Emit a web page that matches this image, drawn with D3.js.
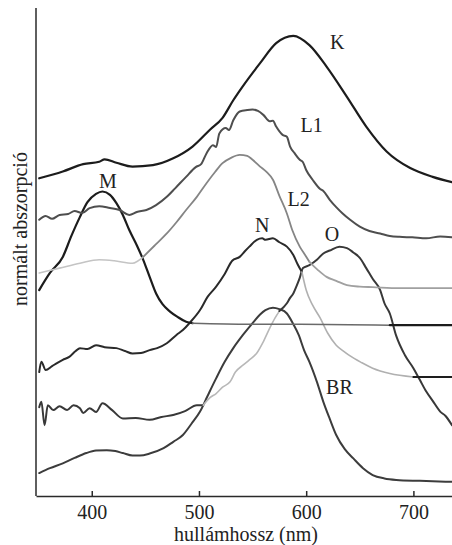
<!DOCTYPE html>
<html>
<head>
<meta charset="utf-8">
<script src="https://cdn.jsdelivr.net/npm/d3@7"></script>
<style>
  html, body { margin: 0; padding: 0; background: #fff; }
  svg { display: block; font-family: "Liberation Serif", "Times New Roman", serif; }
  text { font-family: "Liberation Serif", "Times New Roman", serif; fill: #222; }
</style>
</head>
<body>
<svg id="chart" width="452" height="545"></svg>
<script>
// wavelength (nm), normalised absorbance (offset, arbitrary units 0-100)
const K = [[351,65.1],[373,66.5],[392,68.0],[407,68.5],[412,69.0],[423,68.3],[438,67.5],[457,67.8],[476,69.2],[494,71.6],[510,75.0],[522,77.5],[532,81.1],[541,84.0],[557,88.7],[572,92.8],[588,94.3],[603,92.4],[619,88.0],[638,81.8],[656,75.7],[675,70.6],[697,67.2],[718,65.4],[736,64.3]];
const L1 = [[351,56.6],[357,57.4],[363,56.8],[370,57.6],[378,57.8],[384,58.4],[391,58.0],[398,59.0],[407,59.4],[417,59.0],[426,58.6],[435,57.6],[442,58.2],[451,58.6],[460,59.6],[470,61.3],[478,63.1],[488,65.4],[497,67.4],[502,68.0],[507,70.2],[513,71.9],[516,71.5],[519,74.3],[525,75.4],[528,75.0],[532,77.0],[538,78.8],[545,79.1],[550,79.2],[555,78.9],[560,78.1],[566,76.8],[569,76.9],[572,75.7],[578,74.0],[582,73.6],[585,71.6],[589,70.3],[594,68.9],[597,68.4],[600,66.8],[606,64.8],[613,62.9],[616,62.5],[622,60.7],[628,59.2],[634,57.9],[641,56.6],[650,55.2],[659,54.3],[669,53.8],[678,53.3],[687,53.1],[699,53.0],[712,52.8],[725,53.2],[736,53.0]];
const L2 = [[351,45.7],[370,46.7],[389,47.7],[407,48.4],[421,48.2],[438,47.7],[448,49.0],[459,51.4],[470,53.8],[479,56.1],[488,58.6],[498,61.3],[507,64.1],[515,66.4],[522,68.2],[530,69.3],[538,69.9],[545,69.7],[550,68.9],[557,67.5],[563,66.4],[569,64.8],[575,61.5],[582,57.9],[587,54.5],[594,51.1],[599,49.4],[603,48.0],[611,46.3],[619,44.9],[628,44.1],[638,43.2],[650,42.9],[662,42.8],[687,42.6],[712,42.6],[736,42.6]];
const M = [[351,42.2],[361,45.7],[373,49.0],[381,53.3],[389,57.2],[396,60.2],[404,61.9],[410,62.4],[417,61.7],[423,60.0],[429,57.6],[435,54.5],[442,51.4],[448,48.4],[454,44.9],[460,41.5],[466,39.3],[473,37.8],[480,36.7],[488,35.7],[494,35.4],[547,35.2],[594,35.2],[678,35.0],[736,35.0]];
const N = [[351,25.4],[353,27.5],[357,25.8],[363,26.6],[368,27.3],[373,27.9],[379,28.5],[385,29.7],[389,30.3],[396,30.1],[404,30.9],[412,30.5],[423,30.3],[431,29.7],[438,29.2],[446,29.3],[454,29.9],[461,30.3],[470,31.3],[479,33.0],[485,34.0],[491,35.4],[501,38.1],[508,40.8],[516,42.9],[524,45.5],[531,48.2],[538,49.0],[543,50.2],[547,51.1],[554,52.5],[559,52.8],[562,52.5],[569,52.8],[575,52.0],[582,51.1],[588,49.4],[592,47.5],[596,45.9],[600,42.2],[606,39.1],[613,36.5],[620,33.4],[628,30.9],[636,29.5],[641,28.7],[652,27.3],[662,26.2],[678,25.1],[700,24.4],[715,24.4],[736,24.4]];
const O = [[351,18.2],[353,19.3],[356,14.5],[359,18.6],[364,17.6],[370,18.4],[377,17.6],[383,18.6],[389,18.0],[392,17.0],[398,18.0],[404,17.2],[410,19.0],[419,17.6],[429,15.9],[441,16.0],[454,15.6],[465,16.2],[476,16.6],[487,17.4],[498,18.6],[504,18.6],[510,20.1],[516,21.0],[522,22.3],[529,23.4],[534,25.4],[541,26.8],[547,27.9],[554,29.3],[560,31.6],[566,34.4],[571,36.5],[575,37.9],[582,39.5],[585,40.6],[588,41.5],[591,43.0],[594,44.7],[597,46.7],[603,47.3],[610,48.4],[616,49.7],[622,50.3],[631,51.1],[638,50.8],[644,49.9],[650,48.8],[656,46.7],[662,44.5],[669,42.2],[673,39.5],[678,37.4],[684,32.8],[692,28.9],[700,26.2],[706,23.8],[712,21.4],[718,19.5],[725,17.3],[730,16.4],[736,14.5]];
const BR = [[351,4.7],[361,5.7],[373,6.7],[384,7.8],[395,8.8],[404,9.3],[414,9.4],[422,9.2],[429,8.8],[438,8.3],[445,8.3],[454,8.7],[467,9.8],[476,11.1],[485,12.5],[493,14.8],[501,17.3],[508,20.5],[516,24.1],[524,27.5],[532,30.3],[541,33.0],[551,35.7],[557,37.2],[562,38.1],[569,38.6],[575,38.3],[582,37.4],[588,35.2],[593,33.0],[598,29.9],[603,27.5],[610,23.4],[616,19.3],[622,15.8],[628,12.5],[636,9.6],[644,7.7],[653,5.7],[662,4.3],[673,3.6],[684,3.3],[706,3.1],[736,2.9]];

const xTicks = [400, 500, 600, 700];
const xTitle = "hullámhossz (nm)";
const yTitle = "normált abszorpció";

// segments: [series, fromNm, toNm, colour, width]
const segments = [
  [BR, 350, 740, "#3c3c3c", 2],
  [O, 350, 504, "#383838", 2],
  [O, 504, 575, "#b8b8b8", 1.6],
  [O, 575, 740, "#383838", 2],
  [N, 350, 596, "#2a2a2a", 2],
  [N, 596, 700, "#b0b0b0", 1.6],
  [N, 700, 740, "#1e1e1e", 2],
  [M, 350, 494, "#1c1c1c", 2.2],
  [M, 494, 678, "#6a6a6a", 1.6],
  [M, 678, 740, "#1c1c1c", 2.2],
  [L2, 350, 448, "#c4c4c4", 1.6],
  [L2, 448, 603, "#858585", 1.8],
  [L2, 603, 740, "#a0a0a0", 1.8],
  [L1, 350, 740, "#4e4e4e", 2],
  [K, 350, 740, "#1c1c1c", 2.2]
];

// labels: [text, nm, value]
const labels = [["K",629,91.5],["L1",605,74.6],["M",415,63.1],["L2",593,59.4],["N",559,54.0],["O",624,52.2],["BR",631,21.0]];

const svg = d3.select("#chart");
const x = d3.scaleLinear().domain([348, 736]).range([36, 452]);
const y = d3.scaleLinear().domain([0, 100]).range([496, 8]);

const line = d3.line().x(d => x(d[0])).y(d => y(d[1])).curve(d3.curveMonotoneX);

segments.forEach(([data, a, b, col, w]) => {
  const pts = data.filter(d => d[0] >= a && d[0] <= b);
  svg.append("path").attr("d", line(pts)).attr("fill", "none")
    .attr("stroke", col).attr("stroke-width", w)
    .attr("stroke-linejoin", "round").attr("stroke-linecap", "round");
});

// axes
const xAxis = d3.axisBottom(x).tickValues(xTicks).tickSize(-5).tickPadding(9).tickSizeOuter(0);
const gx = svg.append("g").attr("transform", `translate(0,${y(0)})`).call(xAxis)
  .attr("font-family", "Liberation Serif, Times New Roman, serif").attr("font-size", 20);
gx.select(".domain").attr("stroke", "#2a2a2a").attr("stroke-width", 1.5);
gx.selectAll(".tick line").attr("stroke", "#2a2a2a").attr("stroke-width", 1.5);
gx.selectAll(".tick text").attr("fill", "#222");

svg.append("line").attr("x1", 36).attr("x2", 36).attr("y1", 8).attr("y2", y(0))
  .attr("stroke", "#2a2a2a").attr("stroke-width", 1.5);

svg.append("text").attr("x", 246).attr("y", 541).attr("text-anchor", "middle")
  .attr("font-size", 20).text(xTitle);
svg.append("text").attr("transform", "translate(27,229) rotate(-90)")
  .attr("text-anchor", "middle").attr("font-size", 20).text(yTitle);

labels.forEach(([t, nm, v]) => {
  svg.append("text").attr("x", x(nm)).attr("y", y(v)).attr("text-anchor", "middle")
    .attr("font-size", 20).text(t);
});
</script>
</body>
</html>
